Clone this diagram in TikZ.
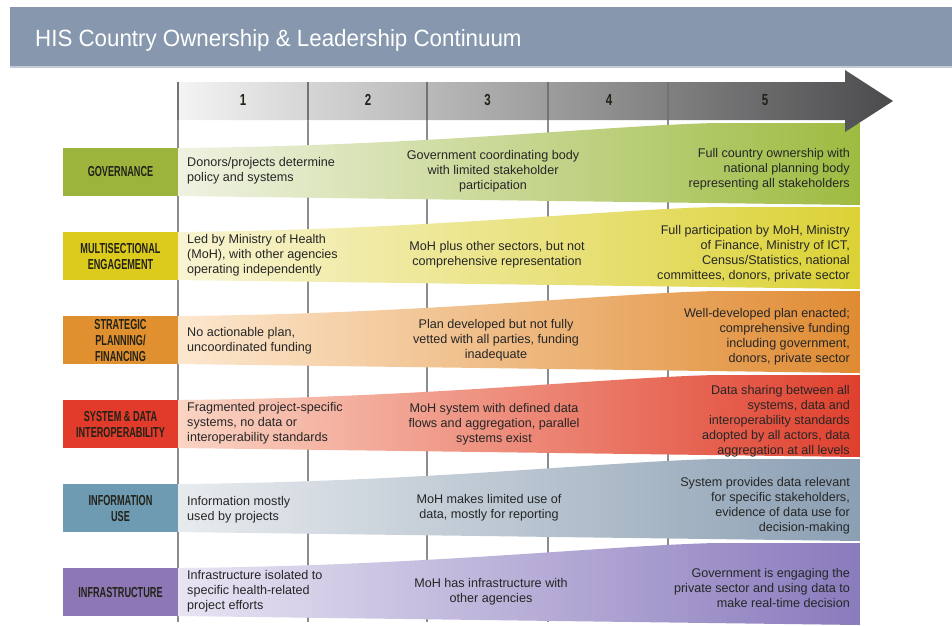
\documentclass[tikz,border=0pt]{standalone}
\usepackage{fontspec}
\setmainfont{Liberation Sans}
\newfontfamily\condfont{Liberation Sans}[FakeStretch=0.63]
\newfontfamily\numfont{Liberation Sans}[FakeStretch=0.72]
\newfontfamily\titlefont{Liberation Sans}[FakeStretch=0.95]

% palette
\definecolor{barc}{HTML}{8798AE}
\definecolor{barline}{HTML}{C3CBD6}
\definecolor{txtc}{HTML}{262626}
\definecolor{labtxt}{HTML}{222218}
\definecolor{divc}{HTML}{8C8C8C}
\definecolor{arrL}{HTML}{F4F4F4}
\definecolor{arrR}{HTML}{4B4B4D}
\definecolor{govc}{HTML}{9CB43C}
\definecolor{govL}{HTML}{EFF2E2}
\definecolor{govR}{HTML}{9EBB41}
\definecolor{mulc}{HTML}{DCCB1C}
\definecolor{mulL}{HTML}{F8F4D2}
\definecolor{mulR}{HTML}{DCD236}
\definecolor{strc}{HTML}{E0902F}
\definecolor{strL}{HTML}{FCE7CE}
\definecolor{strR}{HTML}{E08B33}
\definecolor{sysc}{HTML}{E23A2B}
\definecolor{sysL}{HTML}{FAD4C4}
\definecolor{sysR}{HTML}{E0402E}
\definecolor{infc}{HTML}{6E9AB2}
\definecolor{infL}{HTML}{E8EBEE}
\definecolor{infR}{HTML}{8B9FB3}
\definecolor{strucc}{HTML}{8D78B5}
\definecolor{strucL}{HTML}{E8E4F3}
\definecolor{strucR}{HTML}{8A7BBD}

\begin{document}
\begin{tikzpicture}[x=1pt,y=-1pt,
  titletext/.style={text=white,inner sep=0pt,font=\titlefont\fontsize{23.5}{28}\selectfont},
  divider/.style={draw=divc,line width=1.3pt},
  bandline/.style={draw=black!55,line width=1.1pt},
  numtext/.style={inner sep=0pt,text=labtxt,font=\numfont\bfseries\fontsize{16}{18}\selectfont},
  labelbox/.style={minimum width=115pt,minimum height=48pt,inner sep=0pt,align=center,
    text=labtxt,font=\condfont\bfseries\fontsize{14.5}{16}\selectfont},
  celltext/.style={inner sep=0pt,text=txtc,font=\fontsize{12.6}{15}\selectfont},
  lefttext/.style={celltext,anchor=west,align=left},
  midtext/.style={celltext,align=center},
  righttext/.style={celltext,anchor=east,align=right}]
\useasboundingbox (0,0) rectangle (952,625);
\fill[white] (0,0) rectangle (952,625);

% title bar
\fill[barc] (10,7) rectangle (952,67);
\draw[barline,line width=1.2pt] (10,67) -- (952,67);
\node[titletext,anchor=base west] (title) at (35,46) {HIS Country Ownership \& Leadership Continuum};

% column dividers running behind the rows
\foreach \x in {178,308,427,548,668}
  \draw[divider] (\x,82) -- (\x,622);

% widening ribbons, one per row
\foreach \T/\B/\cl/\cr in {148/196/govL/govR, 232/280/mulL/mulR, 316/364/strL/strR,
                           400/448/sysL/sysR, 484/532/infL/infR, 568/616/strucL/strucR}
  \shade[left color=\cl,right color=\cr]
    (178,\B) -- (178,\T) .. controls (420,\T-2) and (600,\T-22) .. (715,\T-25)
    -- (860,\T-25) -- (860,\B+9) -- cycle;

% row labels
\node[labelbox,fill=govc]   (govlab) at (120.5,172) {GOVERNANCE};
\node[labelbox,fill=mulc]   (mullab) at (120.5,256) {MULTISECTIONAL\\ENGAGEMENT};
\node[labelbox,fill=strc]   (strlab) at (120.5,340) {STRATEGIC\\PLANNING/\\FINANCING};
\node[labelbox,fill=sysc]   (syslab) at (120.5,424) {SYSTEM \& DATA\\INTEROPERABILITY};
\node[labelbox,fill=infc]   (inflab) at (120.5,508) {INFORMATION\\USE};
\node[labelbox,fill=strucc] (struclab) at (120.5,592) {INFRASTRUCTURE};

% stage arrow
\shade[left color=arrL,right color=arrR]
  (178,82) -- (845,82) -- (845,70) -- (893,101) -- (845,132) -- (845,120) -- (178,120) -- cycle;
\foreach \x in {178,308,427,548,668}
  \draw[bandline] (\x,82) -- (\x,120);
\node[numtext] (n1) at (243,100) {1};
\node[numtext] (n2) at (368,100) {2};
\node[numtext] (n3) at (487.5,100) {3};
\node[numtext] (n4) at (609,100) {4};
\node[numtext] (n5) at (765,100) {5};

% governance
\node[lefttext]  (gov1) at (187,171) {Donors/projects determine\\policy and systems};
\node[midtext]   (gov3) at (493,171) {Government coordinating body\\with limited stakeholder\\participation};
\node[righttext] (gov5) at (850,169) {Full country ownership with\\national planning body\\representing all stakeholders};

% multisectional engagement
\node[lefttext]  (mul1) at (187,255) {Led by Ministry of Health\\(MoH), with other agencies\\operating independently};
\node[midtext]   (mul3) at (497,254.5) {MoH plus other sectors, but not\\comprehensive representation};
\node[righttext] (mul5) at (850,254) {Full participation by MoH, Ministry\\of Finance, Ministry of ICT,\\Census/Statistics, national\\committees, donors, private sector};

% strategic planning / financing
\node[lefttext]  (str1) at (187,340.5) {No actionable plan,\\uncoordinated funding};
\node[midtext]   (str3) at (496,340) {Plan developed but not fully\\vetted with all parties, funding\\inadequate};
\node[righttext] (str5) at (850,336.5) {Well-developed plan enacted;\\comprehensive funding\\including government,\\donors, private sector};

% system & data interoperability
\node[lefttext]  (sys1) at (187,423.5) {Fragmented project-specific\\systems, no data or\\interoperability standards};
\node[midtext]   (sys3) at (494,424.5) {MoH system with defined data\\flows and aggregation, parallel\\systems exist};
\node[righttext] (sys5) at (850,421) {Data sharing between all\\systems, data and\\interoperability standards\\adopted by all actors, data\\aggregation at all levels};

% information use
\node[lefttext]  (inf1) at (187,509.5) {Information mostly\\used by projects};
\node[midtext]   (inf3) at (489,507.5) {MoH makes limited use of\\data, mostly for reporting};
\node[righttext] (inf5) at (850,506) {System provides data relevant\\for specific stakeholders,\\evidence of data use for\\decision-making};

% infrastructure
\node[lefttext]  (struc1) at (187,591) {Infrastructure isolated to\\specific health-related\\project efforts};
\node[midtext]   (struc3) at (491,591.5) {MoH has infrastructure with\\other agencies};
\node[righttext] (struc5) at (850,588) {Government is engaging the\\private sector and using data to\\make real-time decision};
\end{tikzpicture}
\end{document}
